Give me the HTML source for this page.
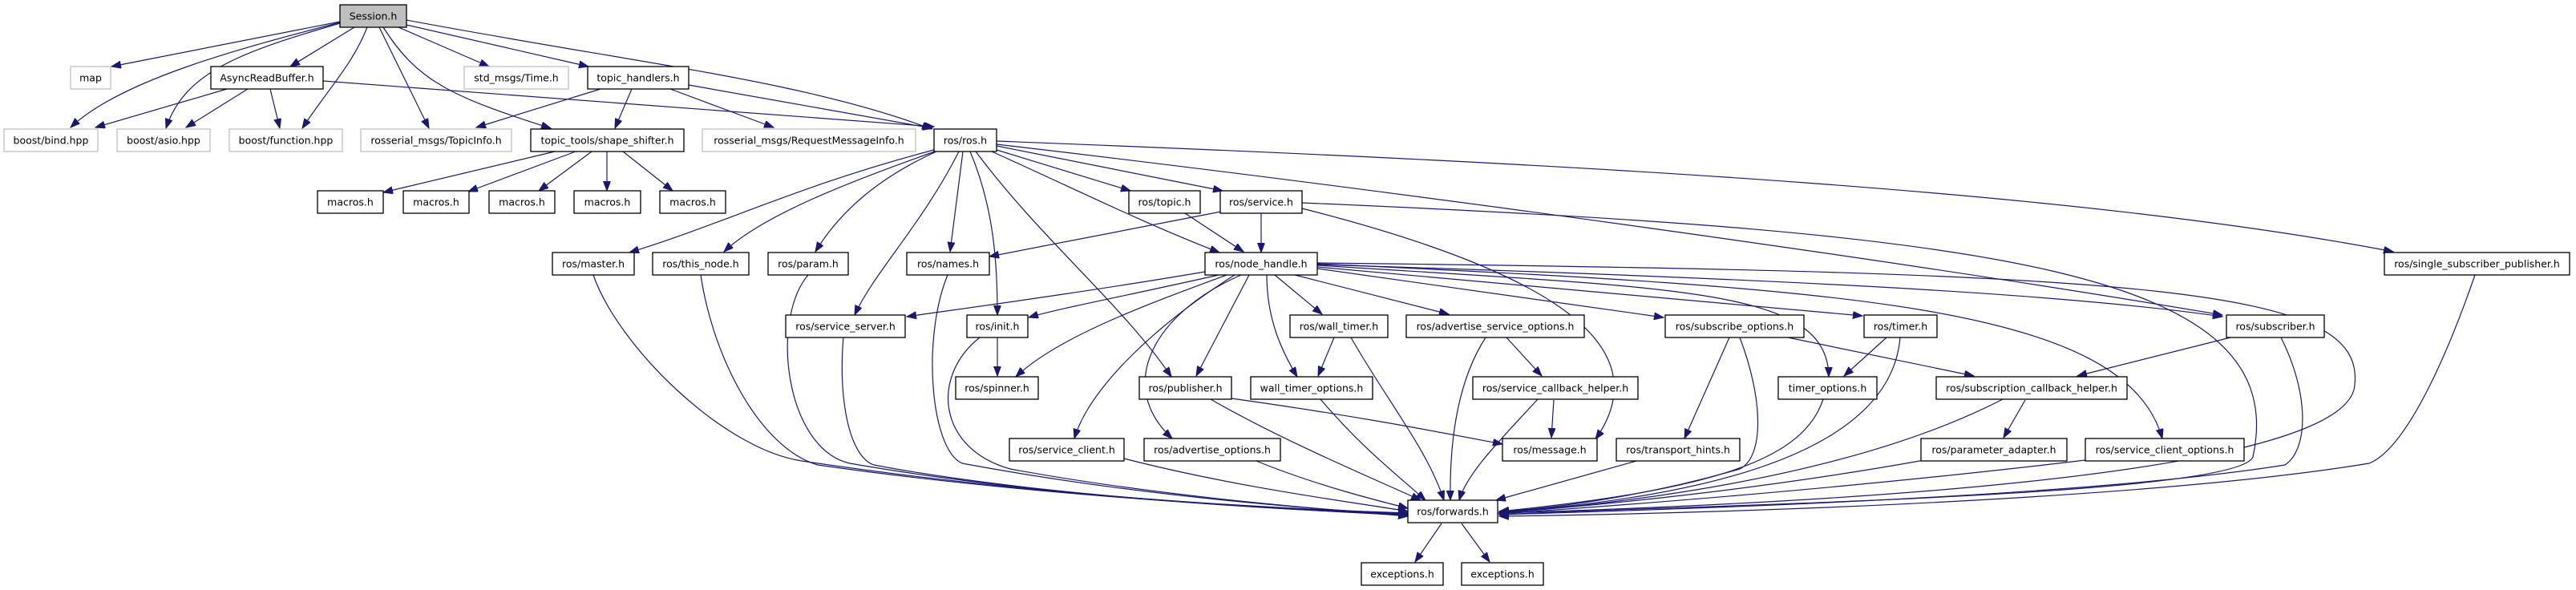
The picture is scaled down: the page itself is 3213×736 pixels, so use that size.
<!DOCTYPE html>
<html><head><meta charset="utf-8"><style>
html,body{margin:0;padding:0;background:#fff;}
svg{display:block;}
text{font-family:"DejaVu Sans","Liberation Sans",sans-serif;font-size:12.5px;fill:#000;text-anchor:middle;}
.n rect{fill:#fff;stroke:#000;stroke-width:1.3;}
.g rect{fill:#fff;stroke:#bfbfbf;stroke-width:1.3;}
.e path{fill:none;stroke:#191970;stroke-width:1.2;marker-end:url(#a);}
</style></head><body>
<svg width="3213" height="736" viewBox="0 0 3213 736" xmlns="http://www.w3.org/2000/svg">
<defs><marker id="a" markerUnits="userSpaceOnUse" markerWidth="14" markerHeight="10" refX="12" refY="4.5" orient="auto"><path d="M0,0 L12,4.5 L0,9 z" fill="#191970" stroke="#191970"/></marker></defs>
<g class="e">
<!-- Session -->
<path d="M424 27 L139 83"/>
<path d="M424 28 C300 60,150 100,88 159"/>
<path d="M424 29 C300 65,230 90,207 160"/>
<path d="M442 34 L362 83"/>
<path d="M458 34 C440 80,410 110,377 160"/>
<path d="M473 34 L535 160"/>
<path d="M478 34 C520 100,560 120,687 160"/>
<path d="M497 34 L610 83"/>
<path d="M507 31 L734 83"/>
<path d="M507 25 C800 80,1000 100,1162 161"/>
<!-- ARB -->
<path d="M283 111 L119 159"/>
<path d="M309 111 L232 159"/>
<path d="M337 111 L349 160"/>
<path d="M403 101 L1165 158"/>
<!-- topic_handlers -->
<path d="M749 111 L594 159"/>
<path d="M788 111 L767 160"/>
<path d="M836 111 L965 159"/>
<path d="M859 106 L1163 160"/>
<!-- shape shifter -->
<path d="M692 189 L478 240"/>
<path d="M718 189 L584 239"/>
<path d="M738 189 L672 238"/>
<path d="M757 189 L757 238"/>
<path d="M777 189 L839 238"/>
<!-- ros.h -->
<path d="M1165 187 C1000 230,900 280,785 315"/>
<path d="M1166 189 C1050 230,950 270,903 314"/>
<path d="M1168 189 C1100 220,1050 260,1017 314"/>
<path d="M1196 189 C1150 280,1090 340,1066 393"/>
<path d="M1201 189 L1185 314"/>
<path d="M1210 189 C1240 260,1244 330,1244 393"/>
<path d="M1217 189 C1300 300,1400 380,1461 470"/>
<path d="M1237 189 C1350 240,1430 280,1521 315"/>
<path d="M1243 187 L1410 238"/>
<path d="M1243 182 L1525 238"/>
<path d="M1243 180 C1800 245,2400 330,2772 393"/>
<path d="M1243 176 C2000 205,2600 240,2985 314"/>
<!-- service.h -->
<path d="M1523 264 L1234 320"/>
<path d="M1573 266 L1573 315"/>
<path d="M1624 260 C1900 330,2080 420,1990 548"/>
<path d="M1624 253 C2500 290,2860 340,2810 570 C2790 620,2100 630,1870 642"/>
<!-- topic.h -->
<path d="M1478 266 L1551 314"/>
<!-- node_handle -->
<path d="M1503 339 C1350 365,1200 385,1131 395"/>
<path d="M1520 343 C1400 370,1320 385,1283 396"/>
<path d="M1530 343 C1430 380,1320 420,1267 470"/>
<path d="M1540 343 C1450 400,1360 480,1340 547"/>
<path d="M1548 343 C1440 390,1390 480,1462 547"/>
<path d="M1558 343 L1492 469"/>
<path d="M1580 343 C1580 400,1600 440,1618 470"/>
<path d="M1590 343 L1649 392"/>
<path d="M1615 343 L1807 392"/>
<path d="M1643 335 L2075 396"/>
<path d="M1643 333 L2323 394"/>
<path d="M1643 331 C2100 360,2280 360,2281 470"/>
<path d="M1643 330 C2300 350,2600 370,2772 395"/>
<path d="M1643 329 C2300 360,2650 380,2697 547"/>
<path d="M1643 328 C2700 340,2950 360,2937 480 C2930 600,2200 630,1870 640"/>
<!-- to forwards from left -->
<path d="M740 343 C770 430,900 560,1000 575 C1300 620,1600 635,1756 640"/>
<path d="M874 343 C890 450,950 560,1020 580 C1300 620,1600 635,1756 641"/>
<path d="M1008 343 C960 400,980 560,1060 578 C1300 620,1600 636,1756 642"/>
<path d="M1182 343 C1150 420,1160 560,1200 578 C1400 615,1600 633,1756 642"/>
<path d="M1052 420 C1045 500,1060 570,1090 580 C1300 620,1600 635,1756 643"/>
<path d="M1222 421 C1160 470,1170 560,1260 585 C1450 620,1650 635,1756 644"/>
<path d="M1402 572 C1550 610,1700 628,1756 638"/>
<path d="M1567 575 C1640 605,1720 625,1756 634"/>
<path d="M1510 498 C1600 550,1720 600,1772 624"/>
<path d="M1647 498 C1700 560,1740 590,1778 624"/>
<path d="M1685 421 C1730 500,1780 560,1801 624"/>
<path d="M1853 421 C1815 480,1808 560,1809 624"/>
<path d="M1918 498 C1870 550,1830 590,1820 624"/>
<path d="M2041 575 L1866 624"/>
<path d="M2170 421 C2200 500,2200 570,2170 585 C2050 620,1930 635,1870 638"/>
<path d="M2274 498 C2250 570,2150 610,1870 638"/>
<path d="M2370 421 C2360 540,2200 615,1870 639"/>
<path d="M2498 498 C2300 600,2000 630,1870 640"/>
<path d="M2400 574 C2200 610,2000 630,1870 640"/>
<path d="M2601 574 C2300 610,2000 632,1870 641"/>
<path d="M2845 421 C2880 490,2880 560,2850 580 C2600 620,2100 635,1870 642"/>
<path d="M3087 343 C3050 450,3000 560,2955 578 C2700 620,2200 640,1870 644"/>
<!-- misc -->
<path d="M1244 420 L1244 469"/>
<path d="M1664 421 L1644 469"/>
<path d="M1879 421 L1923 469"/>
<path d="M1938 499 L1935 546"/>
<path d="M2157 421 L2101 547"/>
<path d="M2230 421 L2462 469"/>
<path d="M2353 421 L2300 469"/>
<path d="M2782 421 L2591 469"/>
<path d="M2526 499 L2499 546"/>
<path d="M1536 497 C1700 520,1800 540,1874 554"/>
<path d="M1798 653 L1765 701"/>
<path d="M1823 653 L1858 701"/>
</g>
<!-- nodes -->
<g class="n"><rect x="424" y="6" width="83" height="28" style="fill:#bfbfbf"/><text x="465.5" y="24.5">Session.h</text></g>
<g class="g"><rect x="88" y="83" width="50" height="28"/><text x="113" y="101.5">map</text></g>
<g class="n"><rect x="263" y="83" width="140" height="28"/><text x="333" y="101.5">AsyncReadBuffer.h</text></g>
<g class="g"><rect x="579" y="83" width="130" height="28"/><text x="644" y="101.5">std_msgs/Time.h</text></g>
<g class="n"><rect x="733" y="83" width="126" height="28"/><text x="796" y="101.5">topic_handlers.h</text></g>
<g class="g"><rect x="5" y="161" width="117" height="28"/><text x="63.5" y="179.5">boost/bind.hpp</text></g>
<g class="g"><rect x="146" y="161" width="116" height="28"/><text x="204" y="179.5">boost/asio.hpp</text></g>
<g class="g"><rect x="286" y="161" width="141" height="28"/><text x="356.5" y="179.5">boost/function.hpp</text></g>
<g class="g"><rect x="450" y="161" width="188" height="28"/><text x="544" y="179.5">rosserial_msgs/TopicInfo.h</text></g>
<g class="n"><rect x="662" y="161" width="191" height="28"/><text x="757.5" y="179.5">topic_tools/shape_shifter.h</text></g>
<g class="g"><rect x="876" y="161" width="266" height="28"/><text x="1009" y="179.5">rosserial_msgs/RequestMessageInfo.h</text></g>
<g class="n"><rect x="1165" y="161" width="78" height="28"/><text x="1204" y="179.5">ros/ros.h</text></g>
<g class="n"><rect x="396" y="238" width="82" height="28"/><text x="437" y="256.5">macros.h</text></g>
<g class="n"><rect x="503" y="238" width="82" height="28"/><text x="544" y="256.5">macros.h</text></g>
<g class="n"><rect x="610" y="238" width="82" height="28"/><text x="651" y="256.5">macros.h</text></g>
<g class="n"><rect x="716" y="238" width="83" height="28"/><text x="757.5" y="256.5">macros.h</text></g>
<g class="n"><rect x="823" y="238" width="82" height="28"/><text x="864" y="256.5">macros.h</text></g>
<g class="n"><rect x="1408" y="238" width="89" height="28"/><text x="1452.5" y="256.5">ros/topic.h</text></g>
<g class="n"><rect x="1522" y="238" width="102" height="28"/><text x="1573" y="256.5">ros/service.h</text></g>
<g class="n"><rect x="689" y="315" width="102" height="28"/><text x="740" y="333.5">ros/master.h</text></g>
<g class="n"><rect x="814" y="315" width="120" height="28"/><text x="874" y="333.5">ros/this_node.h</text></g>
<g class="n"><rect x="958" y="315" width="100" height="28"/><text x="1008" y="333.5">ros/param.h</text></g>
<g class="n"><rect x="1131" y="315" width="103" height="28"/><text x="1182.5" y="333.5">ros/names.h</text></g>
<g class="n"><rect x="1503" y="315" width="140" height="28"/><text x="1573" y="333.5">ros/node_handle.h</text></g>
<g class="n"><rect x="2974" y="315" width="231" height="28"/><text x="3089.5" y="333.5">ros/single_subscriber_publisher.h</text></g>
<g class="n"><rect x="980" y="393" width="149" height="28"/><text x="1054.5" y="411.5">ros/service_server.h</text></g>
<g class="n"><rect x="1206" y="393" width="76" height="28"/><text x="1244" y="411.5">ros/init.h</text></g>
<g class="n"><rect x="1609" y="393" width="122" height="28"/><text x="1670" y="411.5">ros/wall_timer.h</text></g>
<g class="n"><rect x="1754" y="393" width="222" height="28"/><text x="1865" y="411.5">ros/advertise_service_options.h</text></g>
<g class="n"><rect x="2077" y="393" width="173" height="28"/><text x="2163.5" y="411.5">ros/subscribe_options.h</text></g>
<g class="n"><rect x="2325" y="393" width="91" height="28"/><text x="2370.5" y="411.5">ros/timer.h</text></g>
<g class="n"><rect x="2777" y="393" width="122" height="28"/><text x="2838" y="411.5">ros/subscriber.h</text></g>
<g class="n"><rect x="1192" y="470" width="103" height="28"/><text x="1243.5" y="488.5">ros/spinner.h</text></g>
<g class="n"><rect x="1421" y="470" width="115" height="28"/><text x="1478.5" y="488.5">ros/publisher.h</text></g>
<g class="n"><rect x="1560" y="470" width="152" height="28"/><text x="1636" y="488.5">wall_timer_options.h</text></g>
<g class="n"><rect x="1837" y="470" width="206" height="28"/><text x="1940" y="488.5">ros/service_callback_helper.h</text></g>
<g class="n"><rect x="2218" y="470" width="123" height="28"/><text x="2279.5" y="488.5">timer_options.h</text></g>
<g class="n"><rect x="2415" y="470" width="238" height="28"/><text x="2534" y="488.5">ros/subscription_callback_helper.h</text></g>
<g class="n"><rect x="1259" y="547" width="143" height="28"/><text x="1330.5" y="565.5">ros/service_client.h</text></g>
<g class="n"><rect x="1427" y="547" width="170" height="28"/><text x="1512" y="565.5">ros/advertise_options.h</text></g>
<g class="n"><rect x="1874" y="547" width="118" height="28"/><text x="1933" y="565.5">ros/message.h</text></g>
<g class="n"><rect x="2016" y="547" width="154" height="28"/><text x="2093" y="565.5">ros/transport_hints.h</text></g>
<g class="n"><rect x="2396" y="547" width="182" height="28"/><text x="2487" y="565.5">ros/parameter_adapter.h</text></g>
<g class="n"><rect x="2601" y="547" width="198" height="28"/><text x="2700" y="565.5">ros/service_client_options.h</text></g>
<g class="n"><rect x="1756" y="624" width="112" height="28"/><text x="1812" y="642.5">ros/forwards.h</text></g>
<g class="n"><rect x="1698" y="702" width="102" height="28"/><text x="1749" y="720.5">exceptions.h</text></g>
<g class="n"><rect x="1823" y="702" width="102" height="28"/><text x="1874" y="720.5">exceptions.h</text></g>
</svg>
</body></html>
